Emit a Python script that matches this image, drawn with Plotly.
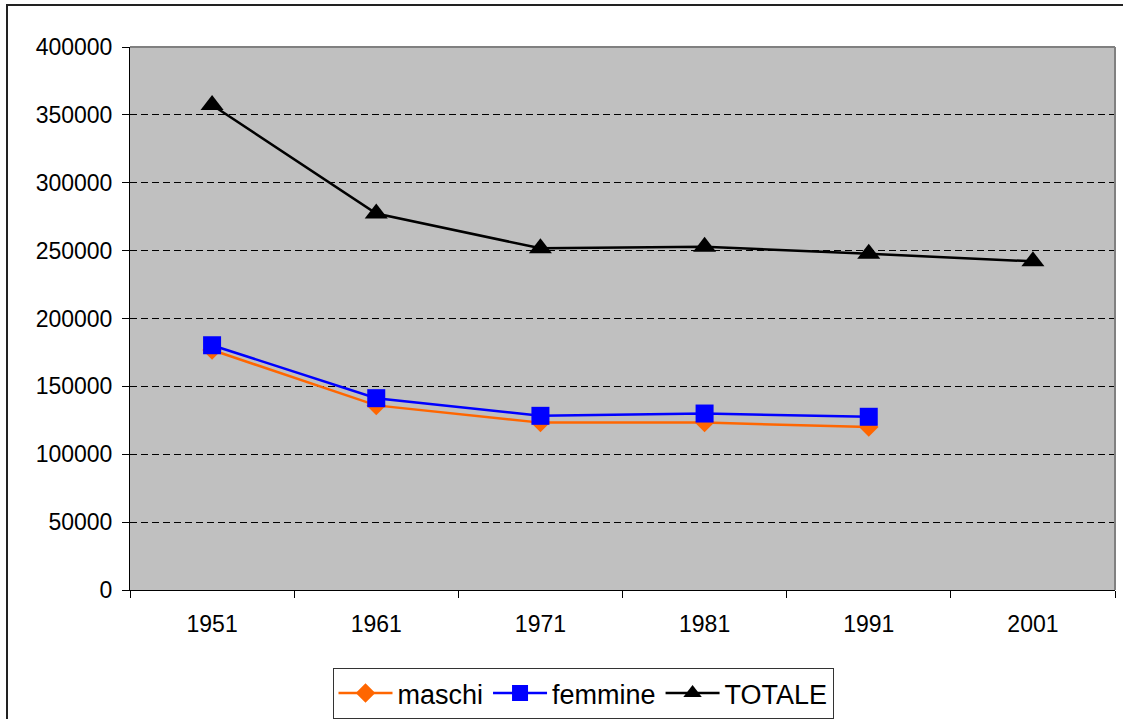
import plotly.graph_objects as go

years = ["1951", "1961", "1971", "1981", "1991", "2001"]
maschi = [176800, 136000, 123300, 123300, 120000, None]
femmine = [180300, 141300, 128300, 130000, 127600, None]
totale = [357300, 277300, 251700, 252900, 247700, 242100]

L, R, T, B = 130, 1115, 47, 590
W, H = 1123, 719

def px_x(x):
    return (x - L) / (R - L)

def px_y(y):
    return (B - y) / (B - T)

FONT = "Liberation Sans, Arial, sans-serif"

fig = go.Figure()
fig.add_trace(go.Scatter(
    x=years, y=maschi, name="maschi", mode="lines+markers",
    line=dict(color="#FF6600", width=2.5),
    marker=dict(symbol="diamond", size=15, color="#FF6600"),
))
fig.add_trace(go.Scatter(
    x=years, y=femmine, name="femmine", mode="lines+markers",
    line=dict(color="#0000FF", width=2.5),
    marker=dict(symbol="square", size=18, color="#0000FF"),
))
fig.add_trace(go.Scatter(
    x=years, y=totale, name="TOTALE", mode="lines+markers",
    line=dict(color="#000000", width=2.5),
    marker=dict(symbol="triangle-up", size=20, color="#000000"),
))

fig.update_layout(
    width=W, height=H,
    margin=dict(l=L, r=W - R, t=T, b=H - B, autoexpand=False),
    paper_bgcolor="white",
    plot_bgcolor="#C0C0C0",
    font=dict(family=FONT, size=23, color="black"),
    showlegend=True,
    legend=dict(
        orientation="h",
        xref="container", yref="container",
        x=583 / W, xanchor="center",
        y=(H - 668) / H, yanchor="top",
        bgcolor="white", bordercolor="#333333", borderwidth=1,
        font=dict(family=FONT, size=27, color="black"),
        itemwidth=54,
        tracegroupgap=0,
    ),
    xaxis=dict(
        type="category",
        range=[-0.5, len(years) - 0.5],
        tickson="boundaries",
        ticks="outside", ticklen=7, tickcolor="black", tickwidth=1,
        showline=True, linecolor="black", linewidth=1,
        showgrid=False, zeroline=False,
        tickfont=dict(family=FONT, size=23),
        ticklabelstandoff=13,
        automargin=False,
    ),
    yaxis=dict(
        range=[0, 400000],
        tickmode="linear", tick0=0, dtick=50000,
        tickformat="d",
        ticks="outside", ticklen=7, tickcolor="black", tickwidth=1,
        showline=True, linecolor="black", linewidth=1,
        showgrid=True, gridcolor="black", gridwidth=1, griddash="7px,4px",
        zeroline=False,
        tickfont=dict(family=FONT, size=23),
        ticklabelstandoff=5,
        automargin=False,
    ),
    shapes=[
        dict(type="line", xref="paper", yref="paper", x0=0, x1=1, y0=1, y1=1,
             line=dict(color="#808080", width=2), layer="above"),
        dict(type="line", xref="paper", yref="paper", x0=1, x1=1, y0=0, y1=1,
             line=dict(color="#808080", width=2), layer="above"),
        dict(type="rect", xref="paper", yref="paper",
             x0=px_x(7), x1=px_x(1140), y0=px_y(740), y1=px_y(5),
             line=dict(color="#222222", width=2), layer="below"),
    ],
)

fig.write_html(
    "out.html",
    config={"displayModeBar": False},
    post_script="document.body.style.margin='0';document.body.style.overflow='hidden';",
)
